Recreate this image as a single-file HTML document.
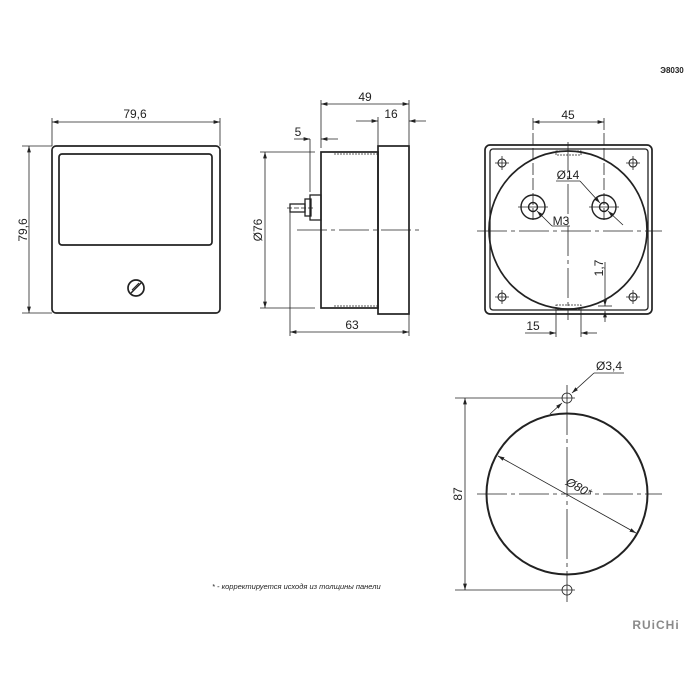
<!DOCTYPE html>
<html><head><meta charset="utf-8"><style>body{margin:0;background:#fff}svg{display:block}text{font-family:"Liberation Sans",sans-serif;fill:#222}</style></head><body>
<svg width="700" height="700" viewBox="0 0 700 700" xmlns="http://www.w3.org/2000/svg">
<defs><marker id="a" viewBox="0 0 10 6" refX="10" refY="3" markerWidth="8" markerHeight="5" orient="auto-start-reverse"><path d="M0,0L10,3L0,6z" fill="#222"/></marker></defs>
<g stroke="#222" fill="none" stroke-width="0.8">
<!-- front view -->
<line x1="52" y1="118" x2="52" y2="146"/><line x1="220" y1="118" x2="220" y2="146"/>
<line x1="52" y1="122" x2="220" y2="122" marker-start="url(#a)" marker-end="url(#a)"/>
<line x1="22" y1="146" x2="52" y2="146"/><line x1="22" y1="313" x2="52" y2="313"/>
<line x1="29" y1="146" x2="29" y2="313" marker-start="url(#a)" marker-end="url(#a)"/>
<rect x="52" y="146" width="168" height="167" rx="4" stroke-width="1.7"/>
<rect x="59" y="154" width="153" height="91" rx="3" stroke-width="1.7"/>
<circle cx="136" cy="288" r="8" stroke-width="1.7"/>
<line x1="131" y1="293" x2="141" y2="283" stroke-width="1.5"/><line x1="132" y1="290" x2="139" y2="283" stroke-width="1"/>
<!-- side view -->
<rect x="321" y="152" width="57" height="156" stroke-width="1.7"/>
<rect x="378" y="146" width="31" height="168" stroke-width="1.7"/>
<line x1="334" y1="154" x2="378" y2="154" stroke-dasharray="2,1"/><line x1="334" y1="306" x2="378" y2="306" stroke-dasharray="2,1"/>
<rect x="310" y="195" width="11" height="25" stroke-width="1.3"/>
<rect x="305" y="199" width="6" height="17" stroke-width="1.3"/>
<rect x="290" y="204" width="15" height="8" stroke-width="1.3"/>
<line x1="287" y1="208" x2="314" y2="208" stroke-dasharray="5,2"/>
<line x1="297" y1="230" x2="420" y2="230" stroke-dasharray="30,4,4,4"/>
<line x1="321" y1="100" x2="321" y2="148"/><line x1="409" y1="100" x2="409" y2="146"/><line x1="378" y1="117" x2="378" y2="146"/>
<line x1="321" y1="104" x2="409" y2="104" marker-start="url(#a)" marker-end="url(#a)"/>
<line x1="356" y1="121" x2="378" y2="121" marker-end="url(#a)"/><line x1="426" y1="121" x2="409" y2="121" marker-end="url(#a)"/>
<line x1="310" y1="139" x2="310" y2="192"/>
<line x1="294" y1="139" x2="310" y2="139" marker-end="url(#a)"/><line x1="338" y1="139" x2="321" y2="139" marker-end="url(#a)"/>
<line x1="260" y1="152" x2="315" y2="152"/><line x1="260" y1="308" x2="315" y2="308"/>
<line x1="265" y1="152" x2="265" y2="308" marker-start="url(#a)" marker-end="url(#a)"/>
<line x1="290" y1="212" x2="290" y2="336"/><line x1="409" y1="314" x2="409" y2="336"/>
<line x1="290" y1="332" x2="409" y2="332" marker-start="url(#a)" marker-end="url(#a)"/>
<!-- rear view -->
<rect x="485" y="145" width="167" height="169" rx="5" stroke-width="1.7"/>
<rect x="490" y="149" width="158" height="161" rx="3" stroke-width="1.3"/>
<circle cx="568" cy="230" r="79" stroke-width="1.7"/>
<line x1="477" y1="231" x2="662" y2="231" stroke-dasharray="30,4,4,4"/>
<line x1="568" y1="142" x2="568" y2="320" stroke-dasharray="30,4,4,4"/>
<rect x="556" y="151" width="25" height="4" stroke-dasharray="2,1"/><rect x="556" y="305" width="25" height="4" stroke-dasharray="2,1"/>
<circle cx="533" cy="207" r="12" stroke-width="1.4"/><circle cx="533" cy="207" r="4.5" stroke-width="1.4"/>
<circle cx="604" cy="207" r="12" stroke-width="1.4"/><circle cx="604" cy="207" r="4.5" stroke-width="1.4"/>
<line x1="518" y1="207" x2="548" y2="207"/><line x1="589" y1="207" x2="619" y2="207"/>
<line x1="533" y1="118" x2="533" y2="220" stroke-dasharray="12,3"/><line x1="604" y1="118" x2="604" y2="220" stroke-dasharray="12,3"/>
<line x1="533" y1="122" x2="604" y2="122" marker-start="url(#a)" marker-end="url(#a)"/>
<g stroke-width="1.1"><circle cx="502" cy="163" r="4"/><circle cx="633" cy="163" r="4"/><circle cx="502" cy="297" r="4"/><circle cx="633" cy="297" r="4"/></g>
<path d="M495,163h14M502,156v14M626,163h14M633,156v14M495,297h14M502,290v14M626,297h14M633,290v14"/>
<line x1="570" y1="226" x2="552" y2="226"/><line x1="552" y1="226" x2="537" y2="211" marker-end="url(#a)"/>
<line x1="556" y1="181" x2="580" y2="181"/><line x1="580" y1="181" x2="600" y2="203" marker-end="url(#a)"/>
<line x1="608" y1="211" x2="623" y2="225" marker-start="url(#a)"/>
<line x1="556" y1="309" x2="556" y2="337"/><line x1="581" y1="309" x2="581" y2="337"/>
<line x1="525" y1="333" x2="556" y2="333" marker-end="url(#a)"/><line x1="597" y1="333" x2="581" y2="333" marker-end="url(#a)"/>
<line x1="605" y1="262" x2="605" y2="306" marker-end="url(#a)"/><line x1="605" y1="322" x2="605" y2="311" marker-end="url(#a)"/>
<line x1="598" y1="306" x2="612" y2="306"/>
<!-- cutout -->
<circle cx="567" cy="494" r="80.5" stroke-width="2"/>
<circle cx="567" cy="398" r="5"/><circle cx="567" cy="590" r="5"/>
<line x1="567" y1="385" x2="567" y2="602" stroke-dasharray="50,4,4,4"/>
<line x1="477" y1="494" x2="662" y2="494" stroke-dasharray="30,4,4,4"/>
<line x1="455" y1="398" x2="575" y2="398"/><line x1="455" y1="590" x2="575" y2="590"/>
<line x1="465" y1="398" x2="465" y2="590" marker-start="url(#a)" marker-end="url(#a)"/>
<line x1="498" y1="456" x2="636" y2="533" marker-start="url(#a)" marker-end="url(#a)"/>
<line x1="624" y1="373" x2="594" y2="373"/><line x1="594" y1="373" x2="572" y2="393" marker-end="url(#a)"/>
<line x1="550" y1="414" x2="562" y2="403" marker-end="url(#a)"/>
</g>
<g font-size="12">
<text x="135" y="118" text-anchor="middle">79,6</text>
<text transform="translate(27,230) rotate(-90)" text-anchor="middle">79,6</text>
<text x="365" y="101" text-anchor="middle">49</text>
<text x="391" y="118" text-anchor="middle">16</text>
<text x="298" y="136" text-anchor="middle">5</text>
<text transform="translate(262,230) rotate(-90)" text-anchor="middle">Ø76</text>
<text x="352" y="329" text-anchor="middle">63</text>
<text x="568" y="119" text-anchor="middle">45</text>
<text x="568" y="179" text-anchor="middle">Ø14</text>
<text x="561" y="225" text-anchor="middle">M3</text>
<text x="533" y="330" text-anchor="middle">15</text>
<text transform="translate(603,268) rotate(-90)" text-anchor="middle">1,7</text>
<text x="609" y="370" text-anchor="middle">Ø3,4</text>
<text transform="translate(462,494) rotate(-90)" text-anchor="middle">87</text>
<text transform="translate(577,491) rotate(29)" text-anchor="middle" font-style="italic">Ø80*</text>
</g>
<text x="672" y="73" font-size="8" font-weight="bold" text-anchor="middle">Э8030</text>
<text x="212" y="589" font-size="7.5" font-style="italic">* - корректируется исходя из толщины панели</text>
<text x="656" y="629" font-size="12" font-weight="bold" text-anchor="middle" style="fill:#8a8a8a;letter-spacing:1px">RUiCHi</text>
</svg>
</body></html>
